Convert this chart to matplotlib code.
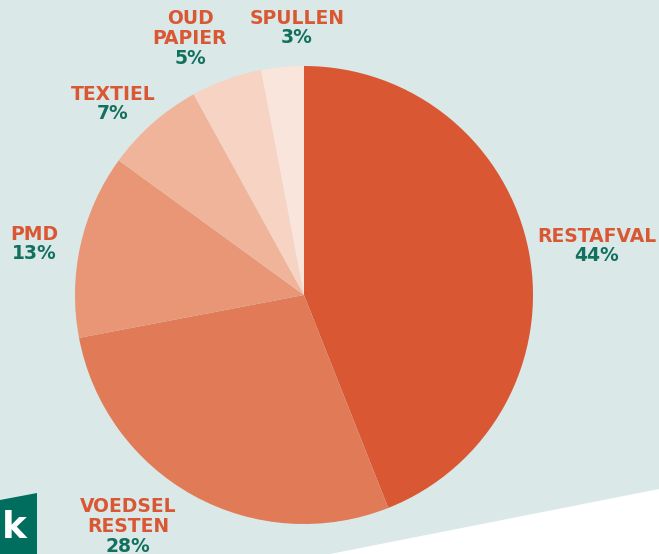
import matplotlib
matplotlib.use("Agg")
import matplotlib.pyplot as plt
from matplotlib.patches import Polygon

categories = ["RESTAFVAL", "VOEDSEL\nRESTEN", "PMD", "TEXTIEL", "OUD\nPAPIER", "SPULLEN"]
values = [44, 28, 13, 7, 5, 3]
colors = ["#D95733", "#E07A57", "#E89675", "#F0B49B", "#F6D3C3", "#FAE5DC"]
label_pos = [(597, 236), (128, 507), (34, 234), (113, 94), (190, 19), (297, 18)]

W, H = 659, 554
fig = plt.figure(figsize=(W / 100, H / 100), dpi=100)
fig.patch.set_facecolor("white")
ax = fig.add_axes([0, 0, 1, 1])

def py(y):
    return H - y

bg = Polygon([(0, py(0)), (W, py(0)), (W, py(489)), (330, py(554)), (0, py(554))],
             closed=True, facecolor="#DAE8E7", edgecolor="none", zorder=0)
ax.add_patch(bg)

ax.pie(values, colors=colors, startangle=90, counterclock=False,
       center=(304, py(295)), radius=229,
       wedgeprops=dict(edgecolor="none", linewidth=0))

green = Polygon([(0, py(500)), (37, py(493)), (37, py(554)), (0, py(554))],
                closed=True, facecolor="#006E5F", edgecolor="none", zorder=5)
ax.add_patch(green)
ax.text(14, py(528), "k", color="white", fontsize=27, fontweight="bold",
        family="DejaVu Sans", ha="center", va="center", zorder=6)

orange = "#D95733"
teal = "#12705F"
fs = 13.5
lh = 19.5
for cat, val, (x, y) in zip(categories, values, label_pos):
    lines = cat.split("\n")
    for i, ln in enumerate(lines):
        ax.text(x, py(y + i * lh), ln, color=orange, fontsize=fs, fontweight="bold",
                family="DejaVu Sans", ha="center", va="center")
    ax.text(x, py(y + len(lines) * lh), f"{val}%", color=teal, fontsize=fs,
            fontweight="bold", family="DejaVu Sans", ha="center", va="center")

ax.set_xlim(0, W)
ax.set_ylim(0, H)
ax.set_aspect("equal")
ax.axis("off")
fig.savefig("out.png", dpi=100)
